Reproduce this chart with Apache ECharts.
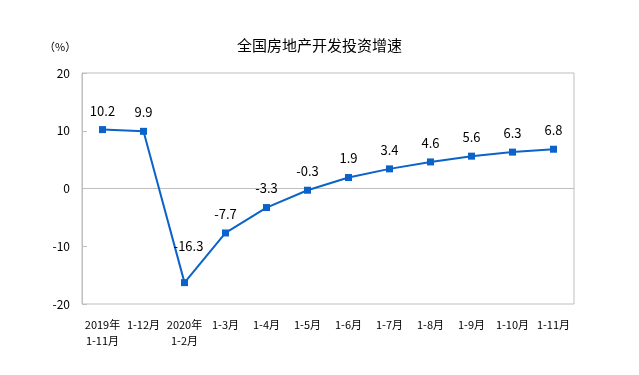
<!DOCTYPE html>
<html><head><meta charset="utf-8">
<script src="https://cdn.jsdelivr.net/npm/echarts@6/dist/echarts.min.js"></script>
<style>html,body{margin:0;padding:0;background:#fff}#c{width:639px;height:375px}</style>
</head><body><div id="c"></div>
<script>
const title = '全国房地产开发投资增速';
const categories = ['2019年\n1-11月','1-12月','2020年\n1-2月','1-3月','1-4月','1-5月','1-6月','1-7月','1-8月','1-9月','1-10月','1-11月'];
const values = [10.2, 9.9, -16.3, -7.7, -3.3, -0.3, 1.9, 3.4, 4.6, 5.6, 6.3, 6.8];
const yTicks = [-20, -10, 0, 10, 20];
const chart = echarts.init(document.getElementById('c'));
const font = '"Noto Sans CJK SC", sans-serif';
const seriesData = values.map((v, i) => i === 2
  ? { value: v, label: { distance: 27, offset: [4, 0] } }
  : v);
chart.setOption({
  animation: false,
  backgroundColor: '#fff',
  title: { text: title, left: 'center', top: 33, textStyle: { fontSize: 15, fontWeight: 'normal', color: '#000', fontFamily: font } },
  graphic: [{ type: 'text', left: 44, top: 41, style: { text: '（%）', fontSize: 11, fill: '#000', fontFamily: font } }],
  grid: { left: 82, right: 65, top: 73, bottom: 71, show: true, borderColor: '#bfbfbf', borderWidth: 1 },
  xAxis: {
    type: 'category', data: categories, boundaryGap: true,
    axisLine: { lineStyle: { color: '#bfbfbf' } },
    axisTick: { inside: true, length: 5, lineStyle: { color: '#bfbfbf' } },
    axisLabel: { color: '#000', fontSize: 11, fontFamily: font, margin: 13, interval: 0, lineHeight: 16 }
  },
  yAxis: {
    type: 'value', min: yTicks[0], max: yTicks[yTicks.length-1], interval: 10,
    splitLine: { show: false },
    axisLine: { show: true, lineStyle: { color: '#bfbfbf' } },
    axisTick: { show: true, inside: true, length: 5, lineStyle: { color: '#bfbfbf' } },
    axisLabel: { color: '#000', fontSize: 12, fontFamily: font, margin: 12 }
  },
  series: [{
    type: 'line', data: seriesData,
    symbol: 'rect', symbolSize: 7,
    lineStyle: { color: '#0b63c9', width: 2 },
    itemStyle: { color: '#0b63c9' },
    label: { show: true, position: 'top', distance: 9, color: '#000', fontSize: 13, fontFamily: font }
  }]
});
</script></body></html>
